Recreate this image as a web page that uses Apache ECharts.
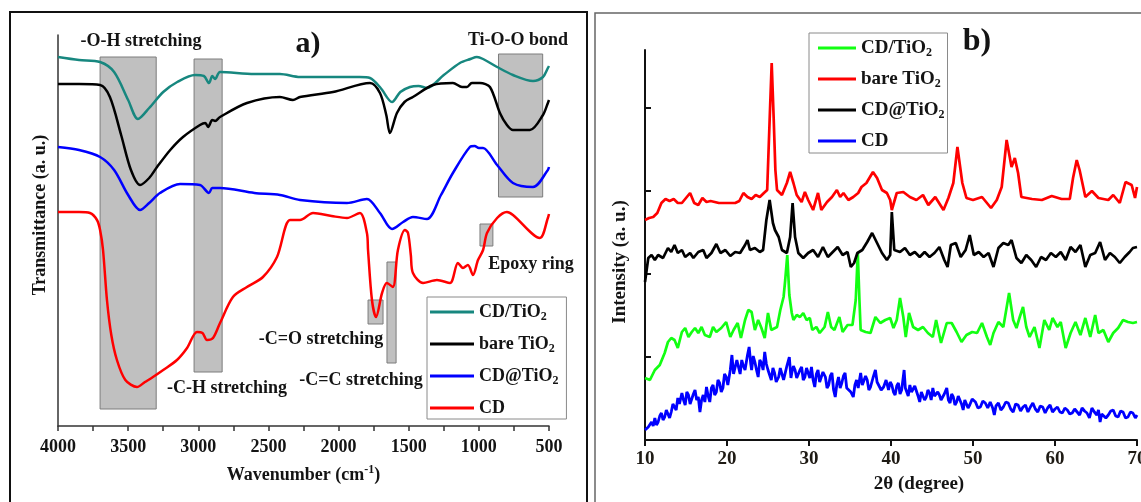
<!DOCTYPE html>
<html>
<head>
<meta charset="utf-8">
<script src="https://cdn.jsdelivr.net/npm/echarts@6/dist/echarts.min.js"></script>
<style>
  html, body { margin: 0; padding: 0; background: #fff; }
  #chart { width: 1141px; height: 502px; }
</style>
</head>
<body>
<div id="chart"></div>
<script>
// ---------- (a) FTIR spectra: [wavenumber cm-1, transmittance a.u.] ----------
const ftirCDTiO2 = [[4000,369],[3850,366],[3700,364],[3600,354],[3500,326],[3430,307],[3350,318],[3250,334],[3150,344],[3024,351],[2960,350],[2924,343],[2900,350],[2880,347],[2845,354],[2600,352],[2418,352],[2275,349],[2000,349],[1850,349],[1776,348],[1700,338],[1619,324],[1560,334],[1491,339],[1430,340],[1370,338],[1250,351],[1135,363],[1060,367],[1014,369],[970,367],[870,359],[757,351],[614,345],[543,349],[508,358],[500,360]];
const ftirBareTiO2 = [[4000,342],[3850,342],[3700,341],[3630,329],[3550,291],[3480,256],[3415,241],[3350,248],[3294,259],[3200,276],[3109,289],[2988,301],[2950,303],[2930,299],[2900,306],[2880,305],[2845,309],[2653,323],[2418,329],[2325,326],[2275,329],[2040,334],[1776,343],[1705,333],[1660,311],[1634,293],[1584,313],[1530,324],[1470,329],[1327,341],[1185,343],[1120,339],[1085,339],[1050,343],[992,343],[921,339],[850,313],[800,301],[757,296],[636,296],[543,311],[508,323],[500,326]];
const ftirCDatTiO2 = [[4000,279],[3850,276],[3700,269],[3600,256],[3500,231],[3415,216],[3350,223],[3273,233],[3130,242],[2988,241],[2924,233],[2900,238],[2845,238],[2600,233],[2418,231],[2275,226],[1940,223],[1798,227],[1705,213],[1619,197],[1540,204],[1470,209],[1370,207],[1270,231],[1185,253],[1064,279],[1030,280],[1000,278],[970,278],[870,261],[757,243],[614,239],[508,256],[500,259]];
const ftirCD = [[4000,214],[3850,214],[3772,213],[3722,206],[3700,196],[3679,176],[3651,126],[3620,91],[3580,66],[3520,46],[3437,39],[3380,44],[3323,49],[3250,56],[3152,66],[3080,78],[3009,94],[2970,93],[2938,86],[2895,88],[2845,103],[2753,129],[2653,139],[2539,149],[2439,169],[2346,206],[2275,206],[2182,213],[2050,210],[1940,208],[1848,213],[1798,193],[1790,176],[1762,126],[1733,109],[1690,133],[1656,143],[1613,139],[1577,176],[1527,196],[1505,193],[1485,171],[1470,153],[1398,143],[1299,146],[1206,143],[1149,163],[1113,158],[1078,161],[1042,151],[1006,166],[970,176],[942,193],[870,208],[800,214],[757,211],[565,188],[508,208],[500,212]];

// Shaded assignment bands: [from cm-1, to cm-1, top, bottom]
const ftirBands = [[3700,3300,369,17],[3030,2830,367,54],[860,545,372,229],[992,900,202,180],[1790,1683,126,102],[1655,1590,164,63]];
const ftirBandLabels = ['-O-H stretching','-C-H stretching','Ti-O-O bond','Epoxy ring','-C=O stretching','-C=C stretching'];

// ---------- (b) XRD patterns: [2θ degree, intensity a.u.] ----------
const xrdCDTiO2 = [[10,62],[10.6,60],[11.2,70],[11.8,75],[12.4,87],[12.8,98],[13.2,102],[13.6,100],[14.0,92],[14.5,108],[14.9,112],[15.3,103],[15.7,108],[16.1,112],[16.5,107],[16.9,113],[17.3,105],[17.9,103],[18.3,113],[18.7,108],[19.3,112],[19.9,118],[20.4,103],[20.8,110],[21.3,117],[21.7,102],[22.2,120],[22.6,130],[23.0,128],[23.4,110],[23.8,120],[24.2,112],[24.6,102],[25.0,127],[25.4,110],[26.1,113],[26.5,130],[26.9,143],[27.1,160],[27.35,185],[27.6,145],[27.9,127],[28.1,120],[28.5,125],[28.9,123],[29.3,127],[29.7,120],[30.1,122],[30.4,110],[30.9,113],[31.3,107],[31.9,113],[32.3,128],[32.7,113],[33.1,110],[33.7,123],[34.1,108],[34.7,115],[35.3,115],[35.7,140],[35.95,187],[36.15,140],[36.3,110],[36.9,108],[37.5,107],[38.1,123],[38.7,117],[39.3,120],[39.9,122],[40.3,112],[40.7,120],[41.1,142],[41.5,123],[41.8,103],[42.2,127],[42.7,113],[43.3,110],[43.9,113],[44.5,107],[45.1,103],[45.5,120],[46.1,97],[46.8,117],[47.4,117],[48.0,108],[48.6,98],[49.2,105],[49.9,108],[50.5,107],[51.1,117],[51.7,103],[52.1,95],[52.5,107],[53.1,118],[53.7,113],[54.4,147],[54.9,120],[55.3,112],[55.7,123],[56.1,133],[56.5,113],[56.9,103],[57.5,113],[58.1,92],[58.7,120],[59.3,110],[59.7,122],[60.3,113],[60.7,118],[61.3,92],[61.9,107],[62.5,118],[63.1,105],[63.7,122],[64.3,103],[64.9,125],[65.3,107],[65.9,110],[66.5,98],[67.1,107],[67.7,112],[68.3,120],[68.9,118],[69.5,117],[70,118]];
const xrdBareTiO2 = [[10,220],[10.5,222],[11,223],[11.5,227],[12,237],[12.5,241],[13,239],[13.5,241],[14,237],[14.5,237],[15,242],[15.5,247],[16,237],[16.5,235],[17,242],[17.5,238],[18,239],[18.5,238],[19,237],[19.5,237],[20,237],[20.5,237],[21,237],[21.5,239],[22,247],[22.5,243],[23,241],[23.5,245],[24,243],[24.5,247],[24.9,250],[25.2,320],[25.45,377],[25.7,320],[25.9,270],[26.1,250],[26.7,245],[27.3,257],[27.7,268],[28.1,257],[28.5,245],[29.1,238],[29.5,248],[29.9,240],[30.5,230],[31.1,247],[31.5,230],[32.2,238],[32.8,243],[33.4,250],[33.8,243],[34.2,247],[34.8,240],[35.4,243],[36.0,247],[36.4,253],[37.0,257],[37.8,268],[38.3,262],[38.9,250],[39.5,247],[39.9,240],[40.1,230],[40.7,247],[41.5,248],[42.3,243],[43.1,240],[43.9,245],[44.55,235],[45.4,243],[46.4,230],[47.0,242],[47.6,257],[48.1,293],[48.7,257],[49.2,242],[50.0,240],[51.1,243],[52.2,232],[52.9,240],[53.5,253],[54.1,300],[54.7,273],[55.1,282],[55.5,267],[55.9,243],[57.2,241],[58.4,240],[59.6,244],[60.8,241],[61.8,241],[62.2,262],[62.65,280],[63.0,270],[63.7,243],[64.5,249],[65.3,242],[66.5,240],[67.1,245],[67.9,237],[68.6,258],[69.35,255],[69.76,242],[70,253]];
const xrdCDatTiO2 = [[10,158],[10.4,182],[10.8,185],[11.2,180],[11.6,185],[12.2,182],[12.8,192],[13.2,188],[13.6,195],[14.0,187],[14.5,190],[14.9,183],[15.5,187],[15.9,182],[16.5,188],[17.1,190],[17.5,182],[18.1,187],[18.7,196],[19.2,187],[19.8,190],[20.4,184],[21.0,188],[21.6,187],[22.2,195],[22.5,200],[22.8,190],[23.4,192],[24.0,188],[24.4,190],[24.8,220],[25.2,240],[25.6,217],[25.85,210],[26.3,203],[26.7,190],[27.3,187],[27.7,203],[28.0,237],[28.3,203],[28.7,187],[29.3,182],[29.9,187],[30.5,190],[31.1,183],[31.7,193],[32.3,183],[32.9,188],[33.5,193],[34.1,185],[34.7,188],[35.1,173],[35.5,177],[35.9,187],[36.5,190],[37.1,198],[37.7,207],[38.3,197],[38.9,187],[39.5,180],[39.9,185],[40.1,228],[40.4,190],[41.1,188],[41.7,192],[42.3,185],[42.9,188],[43.5,183],[44.1,188],[44.7,183],[45.3,187],[45.9,193],[46.5,180],[46.9,173],[47.3,195],[47.9,197],[48.5,183],[49.1,190],[49.6,205],[50.1,185],[50.7,188],[51.3,183],[51.9,187],[52.5,173],[53.1,192],[53.7,197],[54.3,195],[54.7,200],[55.3,182],[55.9,177],[56.5,185],[57.1,180],[57.7,173],[58.3,183],[58.9,180],[59.5,187],[60.1,183],[60.7,188],[61.3,180],[61.9,193],[62.5,188],[63.1,195],[63.7,173],[64.3,185],[64.9,187],[65.5,198],[66.1,180],[66.7,187],[67.3,183],[67.9,177],[68.5,183],[69.1,188],[69.5,192],[70,193]];
const xrdCD = [[10,10],[10.2,8],[10.4,13],[10.6,11],[10.8,18],[11.0,14],[11.2,22],[11.4,15],[11.6,18],[11.8,24],[12.0,27],[12.2,20],[12.4,23],[12.6,30],[12.8,32],[13.0,22],[13.2,28],[13.4,36],[13.6,33],[13.8,30],[14.0,42],[14.2,36],[14.5,47],[14.7,40],[14.9,35],[15.1,48],[15.3,45],[15.5,36],[15.7,37],[15.9,46],[16.1,50],[16.3,40],[16.5,43],[16.7,28],[16.9,40],[17.1,45],[17.3,38],[17.5,53],[17.7,44],[17.9,38],[18.1,52],[18.3,55],[18.5,45],[18.7,48],[18.9,60],[19.1,57],[19.3,48],[19.5,52],[19.7,66],[19.9,63],[20.1,55],[20.4,70],[20.6,85],[20.8,66],[21.0,67],[21.2,80],[21.4,73],[21.6,66],[21.8,80],[22.0,74],[22.2,70],[22.5,85],[22.7,93],[22.9,76],[23.0,70],[23.2,84],[23.4,78],[23.6,70],[23.8,63],[24.0,80],[24.2,77],[24.4,70],[24.6,88],[24.8,76],[25.0,70],[25.2,72],[25.4,60],[25.6,72],[25.8,67],[26.0,58],[26.3,63],[26.5,72],[26.7,70],[26.9,60],[27.1,62],[27.3,74],[27.6,83],[27.8,62],[27.9,67],[28.1,74],[28.3,70],[28.5,62],[28.7,60],[28.9,70],[29.1,73],[29.3,60],[29.5,63],[29.7,72],[29.9,70],[30.1,62],[30.3,73],[30.5,60],[30.7,53],[30.9,66],[31.1,70],[31.3,58],[31.5,60],[31.7,68],[32.0,63],[32.2,52],[32.4,55],[32.6,64],[32.8,67],[33.0,50],[33.2,43],[33.4,56],[33.6,63],[33.8,52],[34.0,57],[34.2,64],[34.4,67],[34.6,52],[34.8,53],[35.1,48],[35.4,43],[35.6,55],[35.8,60],[36.0,52],[36.3,67],[36.5,55],[36.7,57],[36.9,64],[37.1,60],[37.3,50],[37.5,53],[37.8,62],[38.1,70],[38.3,58],[38.5,57],[38.8,50],[39.1,53],[39.4,60],[39.7,50],[39.9,58],[40.1,55],[40.3,48],[40.5,45],[40.7,54],[40.9,57],[41.1,46],[41.3,50],[41.6,70],[41.75,52],[41.9,50],[42.1,44],[42.3,55],[42.5,48],[42.7,47],[42.9,54],[43.1,52],[43.3,44],[43.5,38],[43.7,48],[43.9,50],[44.1,40],[44.3,43],[44.5,50],[44.7,47],[44.9,40],[45.1,52],[45.3,44],[45.5,42],[45.7,48],[45.9,45],[46.1,40],[46.3,38],[46.5,46],[46.8,52],[47.0,40],[47.2,37],[47.4,46],[47.6,43],[47.8,35],[48.0,38],[48.2,44],[48.4,45],[48.6,36],[48.8,30],[49.0,40],[49.2,38],[49.4,32],[49.6,35],[49.9,41],[50.3,38],[50.6,32],[50.9,33],[51.2,39],[51.5,37],[51.8,32],[52.1,38],[52.4,32],[52.6,25],[52.8,34],[53.1,37],[53.4,30],[53.7,33],[54.0,38],[54.3,37],[54.6,31],[54.9,28],[55.2,36],[55.5,35],[55.8,29],[56.1,33],[56.4,35],[56.7,28],[57.0,33],[57.3,37],[57.6,31],[57.9,28],[58.2,34],[58.5,33],[58.8,27],[59.1,32],[59.4,35],[59.7,28],[60.0,31],[60.3,33],[60.6,28],[60.9,27],[61.2,32],[61.5,30],[61.8,26],[62.1,27],[62.4,31],[62.7,28],[63.0,25],[63.3,32],[63.6,29],[63.9,27],[64.2,22],[64.5,32],[64.8,28],[65.1,25],[65.3,30],[65.5,18],[65.7,26],[65.9,28],[66.2,22],[66.5,25],[66.8,29],[67.1,30],[67.4,24],[67.7,23],[68.0,29],[68.3,28],[68.6,22],[68.9,23],[69.2,28],[69.5,27],[69.8,22],[70,25]];

const wavenumberTicks = [4000, 3500, 3000, 2500, 2000, 1500, 1000, 500];
const intensityTicks = [83, 166, 249, 332];

// ---------- styling ----------
const FONT = '"Liberation Serif","Times New Roman",serif';
const INK = '#141414';
const subStyle = { fontFamily: FONT, fontWeight: 'bold', fontSize: 12, color: INK, padding: [10, 0, 0, 0] };
const supStyle = { fontFamily: FONT, fontWeight: 'bold', fontSize: 12, color: INK, padding: [0, 0, 10, 0] };
const legendLabel = n => n.replace(' (XRD)', '').replace(/TiO2$/, 'TiO{sub|2}');

function line(name, data, color, xi, width, smooth) {
  return {
    name, type: 'line', xAxisIndex: xi, yAxisIndex: xi, data,
    showSymbol: false, symbol: 'none', smooth: smooth, z: 3,
    lineStyle: { color, width }, itemStyle: { color }, animation: false
  };
}
function txt(text, x, y, size, extra) {
  return Object.assign({
    type: 'text', x, y, z: 100,
    style: { text, fill: INK, font: 'bold ' + size + 'px ' + FONT, textAlign: 'center', textVerticalAlign: 'middle', verticalAlign: 'middle' }
  }, extra || {});
}

const bandLabelPos = [[141, 41], [227, 388], [518, 40], [531, 264], [321, 339], [361, 380]];

const chart = echarts.init(document.getElementById('chart'), null, { renderer: 'canvas' });
chart.setOption({
  animation: false,
  backgroundColor: '#fff',
  grid: [
    { left: 58, right: 592, top: 35, bottom: 76, outerBoundsMode: 'none', containLabel: false },
    { left: 645, right: 4, top: 50, bottom: 62, outerBoundsMode: 'none', containLabel: false }
  ],
  xAxis: [
    {
      gridIndex: 0, type: 'value', min: 500, max: 4000, interval: 250, inverse: true,
      axisLine: { lineStyle: { color: '#333', width: 1.5 } },
      axisTick: { length: 5, lineStyle: { color: '#333', width: 1.5 } },
      axisLabel: { margin: 12, fontFamily: FONT, fontWeight: 'bold', fontSize: 18, color: INK,
        formatter: v => wavenumberTicks.includes(v) ? String(v) : '' },
      splitLine: { show: false },
      name: 'Wavenumber (cm{sup|-1})', nameLocation: 'middle', nameGap: 38,
      nameTextStyle: { fontFamily: FONT, fontWeight: 'bold', fontSize: 18, color: INK, rich: { sup: supStyle } }
    },
    {
      gridIndex: 1, type: 'value', min: 10, max: 70, interval: 10,
      axisLine: { lineStyle: { color: '#111', width: 2 } },
      axisTick: { length: 6, lineStyle: { color: '#111', width: 2 } },
      axisLabel: { margin: 10, fontFamily: FONT, fontWeight: 'bold', fontSize: 19, color: '#1e1a14' },
      splitLine: { show: false }
    }
  ],
  yAxis: [
    {
      gridIndex: 0, type: 'value', min: 0, max: 391,
      axisLine: { show: true, lineStyle: { color: '#333', width: 1.5 } },
      axisTick: { show: false }, axisLabel: { show: false }, splitLine: { show: false }
    },
    {
      gridIndex: 1, type: 'value', min: 0, max: 390, interval: 83,
      axisLine: { show: true, lineStyle: { color: '#111', width: 2 } },
      axisTick: { show: true, inside: true, length: 6, customValues: intensityTicks, lineStyle: { color: '#111', width: 2 } },
      axisLabel: { show: false }, splitLine: { show: false }
    }
  ],
  legend: [
    {
      left: 427, top: 297, orient: 'vertical', icon: 'rect', itemWidth: 44, itemHeight: 3, itemGap: 10,
      padding: [4, 8, 0, 3], borderColor: '#8a8a8a', borderWidth: 1, backgroundColor: '#fff',
      data: ['CD/TiO2', 'bare TiO2', 'CD@TiO2', 'CD'],
      formatter: legendLabel,
      textStyle: { fontFamily: FONT, fontWeight: 'bold', fontSize: 18, color: INK, lineHeight: 22, rich: { sub: subStyle } }
    },
    {
      left: 809, top: 33, orient: 'vertical', icon: 'rect', itemWidth: 38, itemHeight: 3, itemGap: 9,
      padding: [4, 3, 1, 9], borderColor: '#8a8a8a', borderWidth: 1, backgroundColor: '#fff',
      data: ['CD/TiO2 (XRD)', 'bare TiO2 (XRD)', 'CD@TiO2 (XRD)', 'CD (XRD)'],
      formatter: legendLabel,
      textStyle: { fontFamily: FONT, fontWeight: 'bold', fontSize: 19, color: INK, lineHeight: 22, rich: { sub: subStyle } }
    }
  ],
  series: [
    {
      type: 'line', xAxisIndex: 0, yAxisIndex: 0, data: [], z: 1, silent: true,
      markArea: {
        silent: true,
        itemStyle: { color: '#c0c0c0', borderColor: '#7c7c7c', borderWidth: 1 },
        data: ftirBands.map(b => [{ xAxis: b[0], yAxis: b[2] }, { xAxis: b[1], yAxis: b[3] }])
      }
    },
    line('CD/TiO2', ftirCDTiO2, '#17877f', 0, 2.5, 0.3),
    line('bare TiO2', ftirBareTiO2, '#000000', 0, 2.5, 0.3),
    line('CD@TiO2', ftirCDatTiO2, '#0000ff', 0, 2.5, 0.3),
    line('CD', ftirCD, '#ff0000', 0, 2.5, 0.3),
    line('CD/TiO2 (XRD)', xrdCDTiO2, '#12ff12', 1, 2.7, false),
    line('bare TiO2 (XRD)', xrdBareTiO2, '#ff0000', 1, 2.7, false),
    line('CD@TiO2 (XRD)', xrdCDatTiO2, '#000000', 1, 2.7, false),
    line('CD (XRD)', xrdCD, '#0000ff', 1, 2.8, false)
  ],
  graphic: [
    { type: 'rect', z: 0, shape: { x: 10, y: 12, width: 577, height: 500 }, style: { fill: 'none', stroke: '#111', lineWidth: 2 } },
    { type: 'rect', z: 0, shape: { x: 595, y: 13, width: 560, height: 500 }, style: { fill: 'none', stroke: '#666', lineWidth: 1.5 } },
    ...ftirBandLabels.map((t, i) => txt(t, bandLabelPos[i][0], bandLabelPos[i][1], 18)),
    txt('a)', 308, 44, 30),
    txt('b)', 977, 42, 32),
    txt('Transmittance (a. u.)', 40, 215, 18, { rotation: Math.PI / 2 }),
    txt('Intensity (a. u.)', 620, 262, 19, { rotation: Math.PI / 2 }),
    txt('2θ (degree)', 919, 484, 19)
  ]
});
</script>
</body>
</html>
